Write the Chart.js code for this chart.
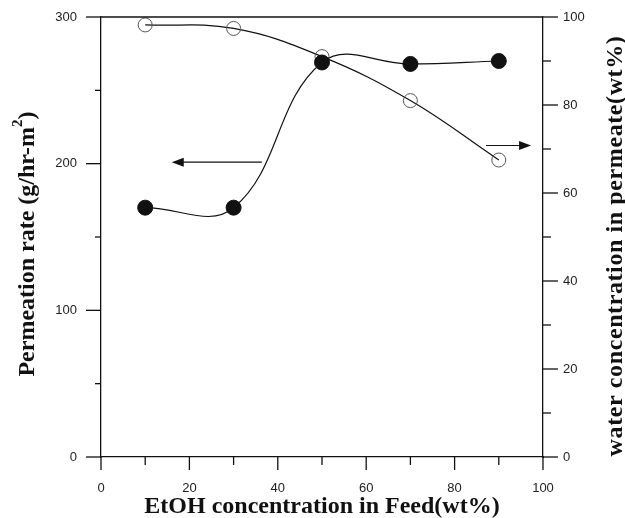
<!DOCTYPE html>
<html>
<head>
<meta charset="utf-8">
<script src="https://cdn.jsdelivr.net/npm/chart.js@4.4.1/dist/chart.umd.min.js"></script>
<style>
    body { margin: 0; background: #fff; }
    canvas { display: block; }
</style>
</head>
<body>
<canvas id="permChart" width="625" height="518"></canvas>
<script>
// EtOH concentration in feed (wt%)
const etohFeed = [10, 30, 50, 70, 90];
// permeation rate, left axis (g/hr-m2)
const permeationRate = [170, 170, 269, 268, 270];
// water concentration in permeate, right axis (wt%)
const waterPermeate = [98.2, 97.4, 91, 81, 67.5];

// tick values
const xMajorTicks = [0, 20, 40, 60, 80, 100];
const xMinorTicks = [10, 30, 50, 70, 90];
const yMajorTicks = [0, 100, 200, 300];
const yMinorTicks = [50, 150, 250];
const y2MajorTicks = [0, 20, 40, 60, 80, 100];
const y2MinorTicks = [10, 30, 50, 70, 90];

// arrows pointing to the axis each curve belongs to: [x1, x2, y]
const arrowLeft = [36.4, 16, 201];
const arrowRight = [87.1, 97.3, 70.8];

const toPoints = (xs, ys) => xs.map((x, i) => ({ x: x, y: ys[i] }));

// minor/major tick marks, top frame, arrows, axis titles
const decorPlugin = {
    id: 'decor',
    afterDraw(chart) {
        const ctx = chart.ctx;
        const area = chart.chartArea;
        const sx = chart.scales.x, sy = chart.scales.y, sy2 = chart.scales.y2;
        ctx.save();
        ctx.strokeStyle = '#111';
        ctx.lineWidth = 1.3;

        // top frame line
        ctx.beginPath();
        ctx.moveTo(area.left, area.top);
        ctx.lineTo(area.right, area.top);
        ctx.stroke();

        const tick = (x1, y1, x2, y2) => {
            ctx.beginPath();
            ctx.moveTo(x1, y1);
            ctx.lineTo(x2, y2);
            ctx.stroke();
        };
        xMajorTicks.forEach(v => { const p = sx.getPixelForValue(v); tick(p, area.bottom, p, area.bottom + 13); });
        xMinorTicks.forEach(v => { const p = sx.getPixelForValue(v); tick(p, area.bottom, p, area.bottom + 8); });
        yMajorTicks.forEach(v => { const p = sy.getPixelForValue(v); tick(area.left - 15, p, area.left, p); });
        yMinorTicks.forEach(v => { const p = sy.getPixelForValue(v); tick(area.left - 6, p, area.left, p); });
        y2MajorTicks.forEach(v => { const p = sy2.getPixelForValue(v); tick(area.right, p, area.right + 15, p); });
        y2MinorTicks.forEach(v => { const p = sy2.getPixelForValue(v); tick(area.right, p, area.right + 8, p); });

        // arrows
        const arrow = (x1, x2, y) => {
            ctx.lineWidth = 1.2;
            const dir = Math.sign(x2 - x1);
            tick(x1, y, x2 - dir * 10, y);
            ctx.fillStyle = '#111';
            ctx.beginPath();
            ctx.moveTo(x2, y);
            ctx.lineTo(x2 - dir * 12, y - 4.5);
            ctx.lineTo(x2 - dir * 12, y + 4.5);
            ctx.closePath();
            ctx.fill();
        };
        arrow(sx.getPixelForValue(arrowLeft[0]), sx.getPixelForValue(arrowLeft[1]), sy.getPixelForValue(arrowLeft[2]));
        arrow(sx.getPixelForValue(arrowRight[0]), sx.getPixelForValue(arrowRight[1]), sy2.getPixelForValue(arrowRight[2]));

        // axis titles
        const titleFont = 'bold 24px "Liberation Serif", "Times New Roman", serif';
        const supFont = 'bold 15px "Liberation Serif", "Times New Roman", serif';
        ctx.fillStyle = '#111';
        ctx.textBaseline = 'alphabetic';

        ctx.font = titleFont;
        ctx.textAlign = 'center';
        ctx.fillText('EtOH concentration in Feed(wt%)', (area.left + area.right) / 2, 513);

        // left title with superscript
        ctx.save();
        ctx.translate(34, 244);
        ctx.rotate(-Math.PI / 2);
        ctx.textAlign = 'left';
        const partA = 'Permeation rate (g/hr-m';
        const partB = '2';
        const partC = ')';
        ctx.font = titleFont;
        const wA = ctx.measureText(partA).width;
        const wC = ctx.measureText(partC).width;
        ctx.font = supFont;
        const wB = ctx.measureText(partB).width;
        let cx = -(wA + wB + wC) / 2;
        ctx.font = titleFont;
        ctx.fillText(partA, cx, 0);
        cx += wA;
        ctx.font = supFont;
        ctx.fillText(partB, cx, -12);
        cx += wB;
        ctx.font = titleFont;
        ctx.fillText(partC, cx, 0);
        ctx.restore();

        // right title, reads bottom to top
        ctx.save();
        ctx.translate(622, 246);
        ctx.rotate(-Math.PI / 2);
        ctx.textAlign = 'center';
        ctx.font = titleFont;
        ctx.letterSpacing = '0.6px';
        ctx.fillText('water concentration in permeate(wt%)', 0, 0);
        ctx.restore();

        ctx.restore();
    }
};

const tickFont = { family: '"Liberation Sans", Arial, sans-serif', size: 13 };

// keep the plot box fixed: no extra label padding from the scales
const fixVertical = w => scale => {
    scale.width = w;
    scale.paddingTop = 0;
    scale.paddingBottom = 0;
};

new Chart(document.getElementById('permChart'), {
    type: 'scatter',
    data: {
        datasets: [{
            label: 'Permeation rate',
            data: toPoints(etohFeed, permeationRate),
            yAxisID: 'y',
            showLine: true,
            tension: 0.4,
            borderColor: '#111',
            borderWidth: 1.2,
            pointRadius: 7.5,
            pointBackgroundColor: '#111',
            pointBorderColor: '#111',
            pointBorderWidth: 1
        }, {
            label: 'Water concentration',
            data: toPoints(etohFeed, waterPermeate),
            yAxisID: 'y2',
            showLine: true,
            tension: 0.4,
            borderColor: '#111',
            borderWidth: 1.2,
            pointRadius: 7,
            pointBackgroundColor: 'rgba(0,0,0,0)',
            pointBorderColor: '#555',
            pointBorderWidth: 1
        }]
    },
    options: {
        responsive: false,
        animation: false,
        layout: { padding: { top: 17, left: 0, right: 0, bottom: 0 } },
        plugins: {
            legend: { display: false },
            tooltip: { enabled: false }
        },
        scales: {
            x: {
                type: 'linear',
                min: 0,
                max: 100,
                grid: { display: false, drawTicks: false },
                border: { display: true, color: '#111', width: 1.3 },
                ticks: { stepSize: 20, padding: 24, color: '#222', font: tickFont, maxRotation: 0 },
                afterFit: scale => {
                    scale.height = 61;
                    scale.paddingLeft = 0;
                    scale.paddingRight = 0;
                }
            },
            y: {
                type: 'linear',
                position: 'left',
                min: 0,
                max: 300,
                grid: { display: false, drawTicks: false },
                border: { display: true, color: '#111', width: 1.3 },
                ticks: { stepSize: 100, padding: 24, color: '#222', font: tickFont },
                afterFit: fixVertical(101)
            },
            y2: {
                type: 'linear',
                position: 'right',
                min: 0,
                max: 100,
                grid: { display: false, drawTicks: false },
                border: { display: true, color: '#111', width: 1.3 },
                ticks: { stepSize: 20, padding: 20, color: '#222', font: tickFont },
                afterFit: fixVertical(82)
            }
        }
    },
    plugins: [decorPlugin]
});
</script>
</body>
</html>
